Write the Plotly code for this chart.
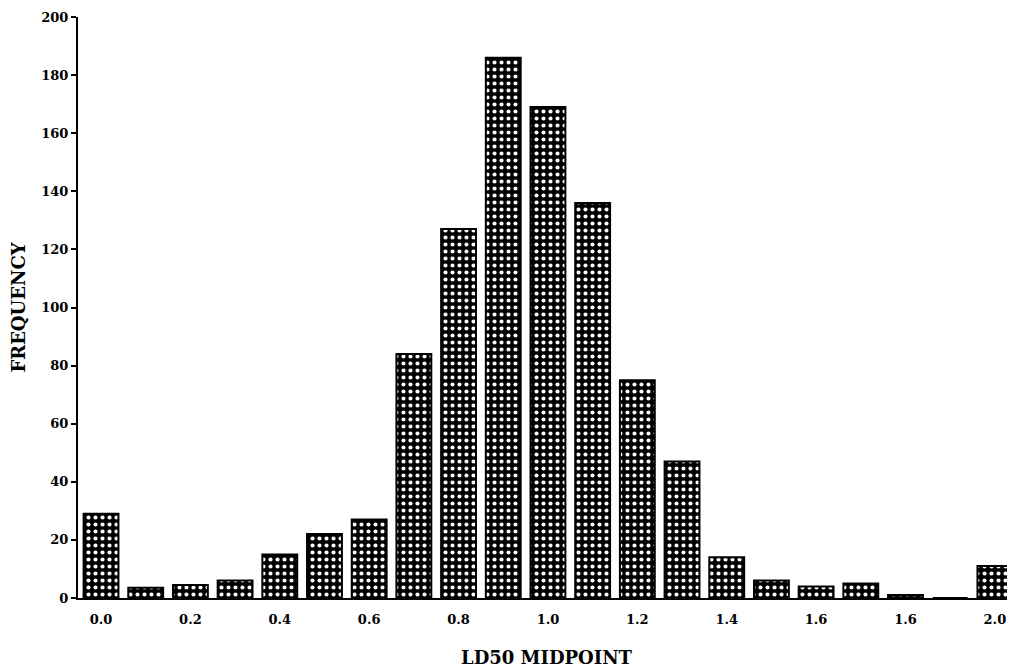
import plotly.graph_objects as go

midpoints = [0.0, 0.1, 0.2, 0.3, 0.4, 0.5, 0.6, 0.7, 0.8, 0.9, 1.0,
             1.1, 1.2, 1.3, 1.4, 1.5, 1.6, 1.7, 1.8, 1.9, 2.0]
frequency = [29, 3.5, 4.5, 6, 15, 22, 27, 84, 127, 186, 169,
             136, 75, 47, 14, 6, 4, 5, 1, 0, 11]
x_tickvals = [0.0, 0.2, 0.4, 0.6, 0.8, 1.0, 1.2, 1.4, 1.6, 1.8, 2.0]
x_ticktext = ["0.0", "0.2", "0.4", "0.6", "0.8", "1.0", "1.2", "1.4", "1.6", "1.6", "2.0"]
y_tickvals = [0, 20, 40, 60, 80, 100, 120, 140, 160, 180, 200]

fig = go.Figure()
fig.add_trace(go.Bar(
    x=midpoints, y=frequency, width=0.078,
    marker=dict(
        color="black",
        line=dict(color="black", width=2),
        pattern=dict(shape=".", fillmode="replace", bgcolor="black",
                     fgcolor="white", size=7, solidity=0.27),
    ),
))

serif = "DejaVu Serif"
fig.update_layout(
    width=1007, height=662,
    margin=dict(l=70, r=0, t=9, b=72),
    paper_bgcolor="white", plot_bgcolor="white",
    showlegend=False,
    font=dict(family=serif, color="black"),
    xaxis=dict(
        range=[-0.0515, 2.045], automargin=False,
        tickvals=x_tickvals, ticktext=x_ticktext,
        tickfont=dict(family=serif, size=13, weight="bold"),
        showline=True, linecolor="black", linewidth=2,
        showgrid=False, zeroline=False,
        ticks="outside", ticklen=8, tickcolor="rgba(0,0,0,0)",
        title=dict(text="LD50 MIDPOINT", font=dict(family=serif, size=18, weight="bold"),
                   standoff=26),
    ),
    yaxis=dict(
        range=[0, 200], automargin=False,
        tickvals=y_tickvals,
        tickfont=dict(family=serif, size=13, weight="bold"),
        showline=True, linecolor="black", linewidth=2,
        showgrid=False, zeroline=False,
        ticks="outside", ticklen=5, tickwidth=2, tickcolor="black",
        title=dict(text="FREQUENCY", font=dict(family=serif, size=18, weight="bold"),
                   standoff=12),
    ),
)

fig.write_html("out.html")
